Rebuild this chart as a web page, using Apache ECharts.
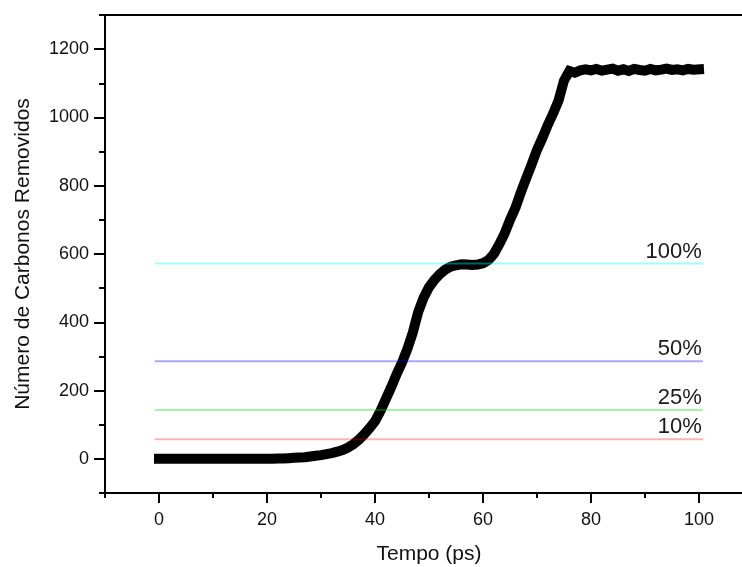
<!DOCTYPE html>
<html>
<head>
<meta charset="utf-8">
<script src="https://cdn.jsdelivr.net/npm/echarts@6/dist/echarts.min.js"></script>
<style>
html,body{margin:0;padding:0;background:#fff;}
#chart{width:742px;height:567px;}
</style>
</head>
<body>
<div id="chart"></div>
<script>
// ---- data ----
var tempo = [];
for (var i = 0; i <= 100; i++) tempo.push(i);
var carbonos = [
  0,0,0,0,0,0,0,0,0,0,
  0,0,0,0,0,0,0,0,0,0,
  0,0,1,1,2,3,4,5,7,9,
  11,14,17,21,26,33,43,56,72,90,
  110,140,175,210,248,282,322,370,430,472,
  503,524,541,554,563,567,570,569,568,569,
  573,582,600,628,660,700,735,780,822,862,
  905,940,978,1012,1050,1108,1136,1131,1138,1141,
  1138,1142,1137,1140,1143,1137,1141,1136,1142,1139,
  1137,1142,1138,1140,1143,1139,1141,1138,1142,1140,
  1141
];
var refLabels = ['100%', '50%', '25%', '10%'];
var refValues = [572, 286, 143, 57.2];
var refColors = ['rgba(0,255,255,0.38)', 'rgba(0,0,255,0.35)', 'rgba(0,220,0,0.35)', 'rgba(255,0,0,0.3)'];
var refStart = -0.8, refEnd = 100.7;
var xMajor = [0, 20, 40, 60, 80, 100];
var yMajor = [0, 200, 400, 600, 800, 1000, 1200];

var FONT = 'Liberation Sans, Arial, sans-serif';
var axisLS = {color: '#000', width: 2};
var plain = function (v) { return String(v); };

var curve = tempo.map(function (t, k) { return [t, carbonos[k]]; });

var series = [{
  type: 'line',
  name: 'carbonos',
  data: curve,
  showSymbol: false,
  symbol: 'none',
  lineStyle: {color: '#000', width: 10, cap: 'square', join: 'miter'},
  z: 2,
  silent: true
}];
refValues.forEach(function (v, k) {
  series.push({
    type: 'line',
    data: [[refStart, v], [refEnd, v]],
    symbol: 'none',
    showSymbol: false,
    lineStyle: {color: refColors[k], width: 2},
    endLabel: {
      show: true,
      formatter: refLabels[k],
      align: 'right',
      verticalAlign: 'bottom',
      distance: 0,
      offset: [-1, -1],
      fontSize: 22,
      fontFamily: FONT,
      color: '#1a1a1a'
    },
    z: 3,
    silent: true
  });
});

var chart = echarts.init(document.getElementById('chart'), null, {renderer: 'canvas'});
chart.setOption({
  animation: false,
  backgroundColor: '#fff',
  textStyle: {fontFamily: FONT},
  grid: {left: 105, right: -11, top: 15, bottom: 74, containLabel: false, outerBoundsMode: 'none'},
  xAxis: [
    {
      type: 'value', min: -10, max: 110, interval: 10, position: 'bottom',
      axisLine: {show: true, onZero: false, lineStyle: axisLS},
      axisTick: {show: true, length: 5, lineStyle: axisLS},
      axisLabel: {show: false},
      splitLine: {show: false}
    },
    {
      type: 'value', min: -10, max: 110, position: 'bottom',
      axisLine: {show: false, onZero: false},
      axisTick: {show: true, length: 10, customValues: xMajor, lineStyle: axisLS},
      axisLabel: {show: true, customValues: xMajor, formatter: plain, margin: 18, fontSize: 18, color: '#111', fontFamily: FONT},
      splitLine: {show: false},
      name: 'Tempo (ps)', nameLocation: 'middle', nameGap: 51,
      nameTextStyle: {fontSize: 21, color: '#111', fontFamily: FONT}
    },
    {
      type: 'value', min: -10, max: 110, position: 'top',
      axisLine: {show: true, onZero: false, lineStyle: axisLS},
      axisTick: {show: false}, axisLabel: {show: false}, splitLine: {show: false}
    }
  ],
  yAxis: [
    {
      type: 'value', min: -100, max: 1300, interval: 100, position: 'left',
      axisLine: {show: true, onZero: false, lineStyle: axisLS},
      axisTick: {show: true, length: 6, lineStyle: axisLS},
      axisLabel: {show: false},
      splitLine: {show: false}
    },
    {
      type: 'value', min: -100, max: 1300, position: 'left',
      axisLine: {show: false, onZero: false},
      axisTick: {show: true, length: 11, customValues: yMajor, lineStyle: axisLS},
      axisLabel: {show: true, customValues: yMajor, formatter: plain, margin: 16, fontSize: 18, color: '#111', fontFamily: FONT},
      splitLine: {show: false},
      name: 'Número de Carbonos Removidos', nameLocation: 'middle', nameGap: 71, nameRotate: 90,
      nameTextStyle: {fontSize: 21, color: '#111', fontFamily: FONT}
    }
  ],
  series: series
});
</script>
</body>
</html>
